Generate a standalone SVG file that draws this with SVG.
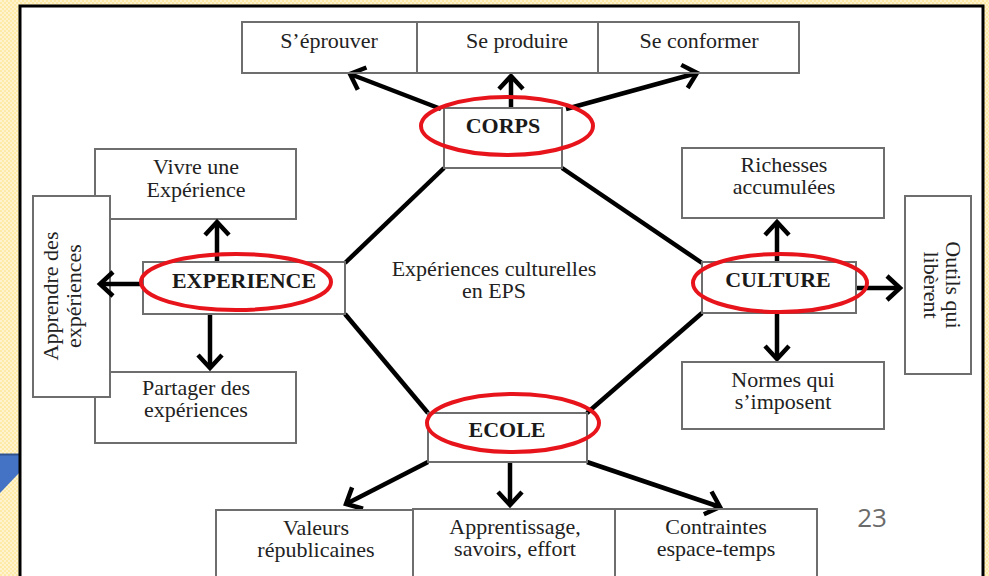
<svg xmlns="http://www.w3.org/2000/svg" width="989" height="576" viewBox="0 0 989 576">
<defs>
<pattern id="bgp" width="4" height="4" patternUnits="userSpaceOnUse">
<rect width="4" height="4" fill="#fdeaa6"/>
<rect width="2" height="2" fill="#fff4cf"/>
<rect x="2" y="2" width="2" height="2" fill="#fff4cf"/>
</pattern>
<marker id="ah" markerUnits="userSpaceOnUse" markerWidth="40" markerHeight="40" viewBox="-20 -20 40 40" refX="0" refY="0" orient="auto" overflow="visible">
<path d="M-13,-12 L0,0 L-13,12" fill="none" stroke="#000" stroke-width="4.5" stroke-linejoin="miter"/>
</marker>
</defs>
<style>
.box{fill:none;stroke:#6e6e6e;stroke-width:2}
.wbox{fill:#fff;stroke:#6e6e6e;stroke-width:2}
.t{font-family:"Liberation Serif","Times New Roman",serif;font-size:22px;fill:#222;text-anchor:middle}
.b{font-weight:bold;fill:#1a1a1a}
.ring{fill:none;stroke:#e8141b;stroke-width:4}
.edge{stroke:#000;stroke-width:4.5;fill:none}
.arr{stroke:#000;stroke-width:4.5;fill:none;marker-end:url(#ah)}
</style>
<rect width="989" height="576" fill="url(#bgp)"/>
<polygon points="0,454 20,454 20,472 0,493" fill="#4472c4"/>
<line x1="0" y1="454.5" x2="20" y2="454.5" stroke="#2f528f" stroke-width="2"/>
<rect x="20" y="6" width="963" height="580" fill="#fff" stroke="#000" stroke-width="3"/>

<g id="vivre">
<rect class="box" x="95" y="149" width="201" height="70"/>
<text class="t" x="196" y="174">Vivre une</text>
<text class="t" x="196" y="197">Expérience</text>
</g>

<g id="partager">
<rect class="box" x="95" y="372" width="201" height="71"/>
<text class="t" x="196" y="395">Partager des</text>
<text class="t" x="196" y="417">expériences</text>
</g>

<g id="apprendre">
<rect class="wbox" x="33" y="196" width="77" height="201"/>
<text class="t" transform="translate(58,296) rotate(-90)"><tspan x="0" y="0">Apprendre des</tspan><tspan x="0" y="23">expériences</tspan></text>
</g>

<g id="connectors">
<line class="edge" x1="444" y1="168" x2="345" y2="263"/>
<line class="edge" x1="562" y1="168" x2="702" y2="263"/>
<line class="edge" x1="345" y1="314" x2="428" y2="413"/>
<line class="edge" x1="702" y1="313" x2="587" y2="413"/>
<line class="arr" x1="441" y1="109" x2="350" y2="74"/>
<line class="arr" x1="511" y1="108" x2="511" y2="76"/>
<line class="arr" x1="566" y1="109" x2="697" y2="73"/>
<line class="arr" x1="217" y1="262" x2="217" y2="222"/>
<line class="arr" x1="143" y1="284" x2="100" y2="284"/>
<line class="arr" x1="210" y1="314" x2="210" y2="368"/>
<line class="arr" x1="777" y1="262" x2="777" y2="222"/>
<line class="arr" x1="856" y1="288" x2="900" y2="288"/>
<line class="arr" x1="777" y1="313" x2="777" y2="359"/>
<line class="arr" x1="428" y1="462" x2="346" y2="504"/>
<line class="arr" x1="510" y1="463" x2="510" y2="505"/>
<line class="arr" x1="587" y1="462" x2="720" y2="507"/>
</g>

<g id="seprouver">
<rect class="box" x="242" y="22" width="175" height="51"/>
<text class="t" x="329" y="48">S’éprouver</text>
</g>
<g id="seproduire">
<rect class="box" x="417" y="22" width="181" height="51"/>
<text class="t" x="517" y="48">Se produire</text>
</g>
<g id="seconformer">
<rect class="box" x="598" y="22" width="201" height="51"/>
<text class="t" x="699" y="48">Se conformer</text>
</g>

<g id="corps">
<rect class="box" x="444" y="108" width="118" height="60"/>
<text class="t b" x="503" y="133">CORPS</text>
<ellipse class="ring" cx="507" cy="126" rx="86" ry="29"/>
</g>

<g id="experience">
<rect class="box" x="143" y="262" width="202" height="52"/>
<text class="t b" x="244" y="288">EXPERIENCE</text>
<ellipse class="ring" cx="236" cy="282" rx="95" ry="28"/>
</g>

<g id="centre">
<text class="t" x="494" y="276">Expériences culturelles</text>
<text class="t" x="494" y="298">en EPS</text>
</g>

<g id="richesses">
<rect class="box" x="682" y="148" width="202" height="70"/>
<text class="t" x="784" y="172">Richesses</text>
<text class="t" x="784" y="194">accumulées</text>
</g>

<g id="culture">
<rect class="box" x="702" y="262" width="154" height="51"/>
<text class="t b" x="778" y="287">CULTURE</text>
<ellipse class="ring" cx="780" cy="283" rx="87" ry="29"/>
</g>

<g id="outils">
<rect class="box" x="905" y="196" width="66" height="178"/>
<text class="t" transform="translate(946,285) rotate(90)"><tspan x="0" y="0">Outils qui</tspan><tspan x="0" y="22">libèrent</tspan></text>
</g>

<g id="normes">
<rect class="box" x="682" y="362" width="202" height="67"/>
<text class="t" x="783" y="387">Normes qui</text>
<text class="t" x="783" y="409">s’imposent</text>
</g>

<g id="ecole">
<rect class="box" x="428" y="413" width="159" height="49"/>
<text class="t b" x="507" y="437">ECOLE</text>
<ellipse class="ring" cx="513" cy="423" rx="86" ry="29"/>
</g>

<g id="valeurs">
<rect class="box" x="216" y="510" width="197" height="70"/>
<text class="t" x="316" y="535">Valeurs</text>
<text class="t" x="316" y="557">républicaines</text>
</g>
<g id="apprentissage">
<rect class="box" x="413" y="509" width="202" height="71"/>
<text class="t" x="515" y="534">Apprentissage,</text>
<text class="t" x="515" y="556">savoirs, effort</text>
</g>
<g id="contraintes">
<rect class="box" x="615" y="509" width="202" height="71"/>
<text class="t" x="716" y="534">Contraintes</text>
<text class="t" x="716" y="556">espace-temps</text>
</g>

<text x="872" y="527" font-family="'Open Sans','Noto Sans',sans-serif" font-size="26" fill="#6b6b6b" text-anchor="middle">23</text>
</svg>
